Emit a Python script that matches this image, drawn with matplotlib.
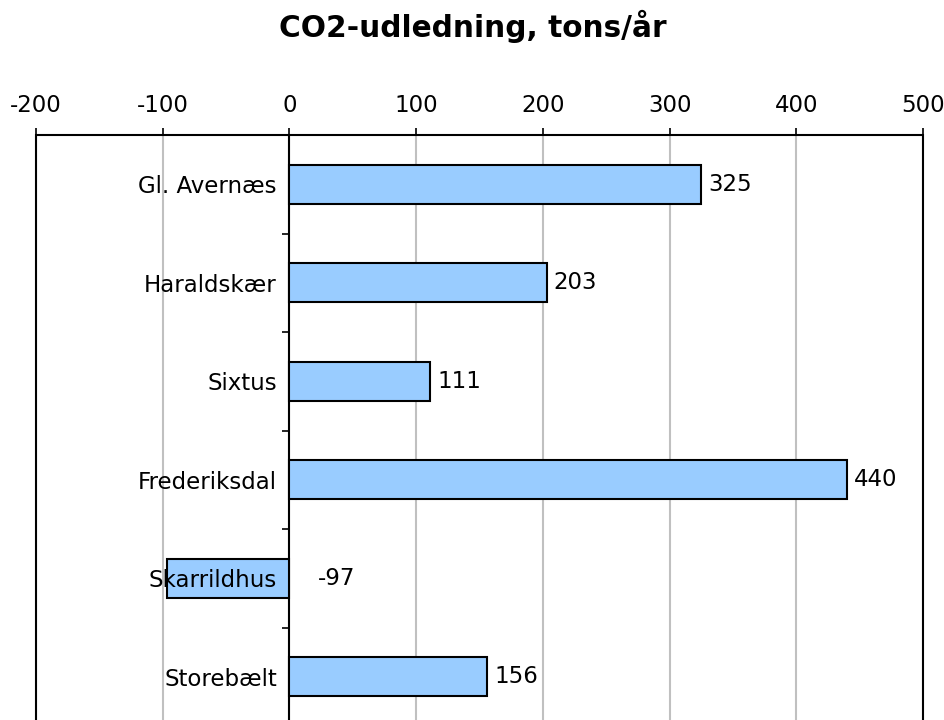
import numpy as np
import matplotlib
matplotlib.use("Agg")
import matplotlib.pyplot as plt
from matplotlib.patches import Rectangle

# data
stations = ['Gl. Avernæs', 'Haraldskær', 'Sixtus', 'Frederiksdal', 'Skarrildhus', 'Storebælt']
co2 = [325, 203, 111, 440, -97, 156]
xticks = [-200, -100, 0, 100, 200, 300, 400, 500]

fs = 16.5

fig = plt.figure(figsize=(9.45, 7.2), dpi=100)
ax = fig.add_axes([36 / 945, 1 - 726 / 720, 887 / 945, 591 / 720])

y = np.arange(len(stations))
ax.barh(y, co2, height=0.4, color='#99CCFF', edgecolor='black', linewidth=1.5, zorder=3)

ax.set_xlim(-200, 500)
ax.set_ylim(len(stations) - 0.5, -0.5)

# x akse foroven
ax.xaxis.tick_top()
ax.set_xticks(xticks)
ax.set_xticklabels([str(t) for t in xticks], fontsize=fs)
ax.tick_params(axis='x', direction='out', length=5, width=1.2, pad=8, color='black')
ax.xaxis.grid(True, color='#c0c0c0', linewidth=1.5, zorder=0)

# y akse ved x=0
ax.spines['left'].set_position(('data', 0))
ax.spines['left'].set_linewidth(1.5)
for s in ['top', 'right', 'bottom']:
    ax.spines[s].set_visible(False)
ax.set_yticks(y)
ax.set_yticklabels(stations, fontsize=fs)
ax.tick_params(axis='y', which='major', length=0, pad=9)
ax.set_yticks(np.arange(len(stations) + 1) - 0.5, minor=True)
ax.tick_params(axis='y', which='minor', length=5, width=1.2, direction='out')
ax.yaxis.set_zorder(5)

# ramme
ax.add_patch(Rectangle((0, 0), 1, 1, transform=ax.transAxes, fill=False,
                       edgecolor='black', linewidth=1.5, zorder=4, clip_on=False))

# værdier
for yi, v in zip(y, co2):
    if v >= 0:
        ax.annotate(str(v), (v, yi), xytext=(7, 0), textcoords='offset pixels',
                    va='center', ha='left', fontsize=fs)
    else:
        ax.annotate(str(v), (0, yi), xytext=(28, 0), textcoords='offset pixels',
                    va='center', ha='left', fontsize=fs)

fig.text(0.5, 1 - 26 / 720, 'CO2-udledning, tons/år', ha='center', va='center',
         fontsize=21.3, fontweight='bold')

fig.savefig('out.png', dpi=100)
